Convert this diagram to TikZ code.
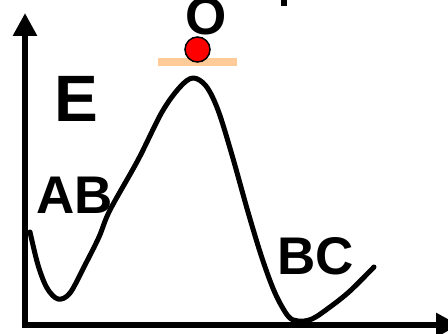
\documentclass[tikz,border=0pt]{standalone}
\usepackage{fontspec}
\setmainfont{Liberation Sans}
\usetikzlibrary{arrows.meta}
\definecolor{peach}{RGB}{255,204,153}
\tikzset{
  axis/.style={line width=6pt,-{Triangle[length=23pt,width=23pt]}},
  curve/.style={line width=5pt,line cap=round,line join=round},
  biglabel/.style={font=\bfseries\fontsize{53}{60}\selectfont,inner sep=0pt},
  elabel/.style={font=\bfseries\fontsize{65.6}{70}\selectfont,inner sep=0pt}
}
\begin{document}
\begin{tikzpicture}[x=1pt,y=-1pt]
\useasboundingbox (0,0) rectangle (448,334);
% axes
\coordinate (yb) at (25,328);
\coordinate (yt) at (25,13);
\coordinate (xl) at (22,325);
\coordinate (xr) at (459,325);
\draw[axis] (yb) -- (yt);
\draw[axis] (xl) -- (xr);
% energy curve
\draw[curve] plot[smooth,tension=0.55] coordinates{
 (30,232) (38,265) (47,288) (58,299) (70,293) (85,265) (99,237) (110,210)
 (138,160) (162,112) (180,87) (193,78) (206,86) (218,110) (232,155)
 (248,212) (262,258) (275,293) (288,316) (298,321) (312,319) (330,307)
 (350,291) (374,267)};
% transition state bar and ball
\fill[peach] (158,58) rectangle (237,66);
\node[circle,fill=red,draw=black,line width=1.5pt,minimum size=25pt,inner sep=0pt] (ball) at (197.5,49.5) {};
% labels
\node[biglabel,anchor=base] (o) at (206,34.5) {O};
\fill[black] (281,-5) rectangle (287,6);
\node[elabel,anchor=base west] (e) at (54.2,122) {E};
\node[biglabel,anchor=base west] (ab) at (36,214) {AB};
\node[biglabel,anchor=base west] (bc) at (277,275) {BC};
\end{tikzpicture}
\end{document}
